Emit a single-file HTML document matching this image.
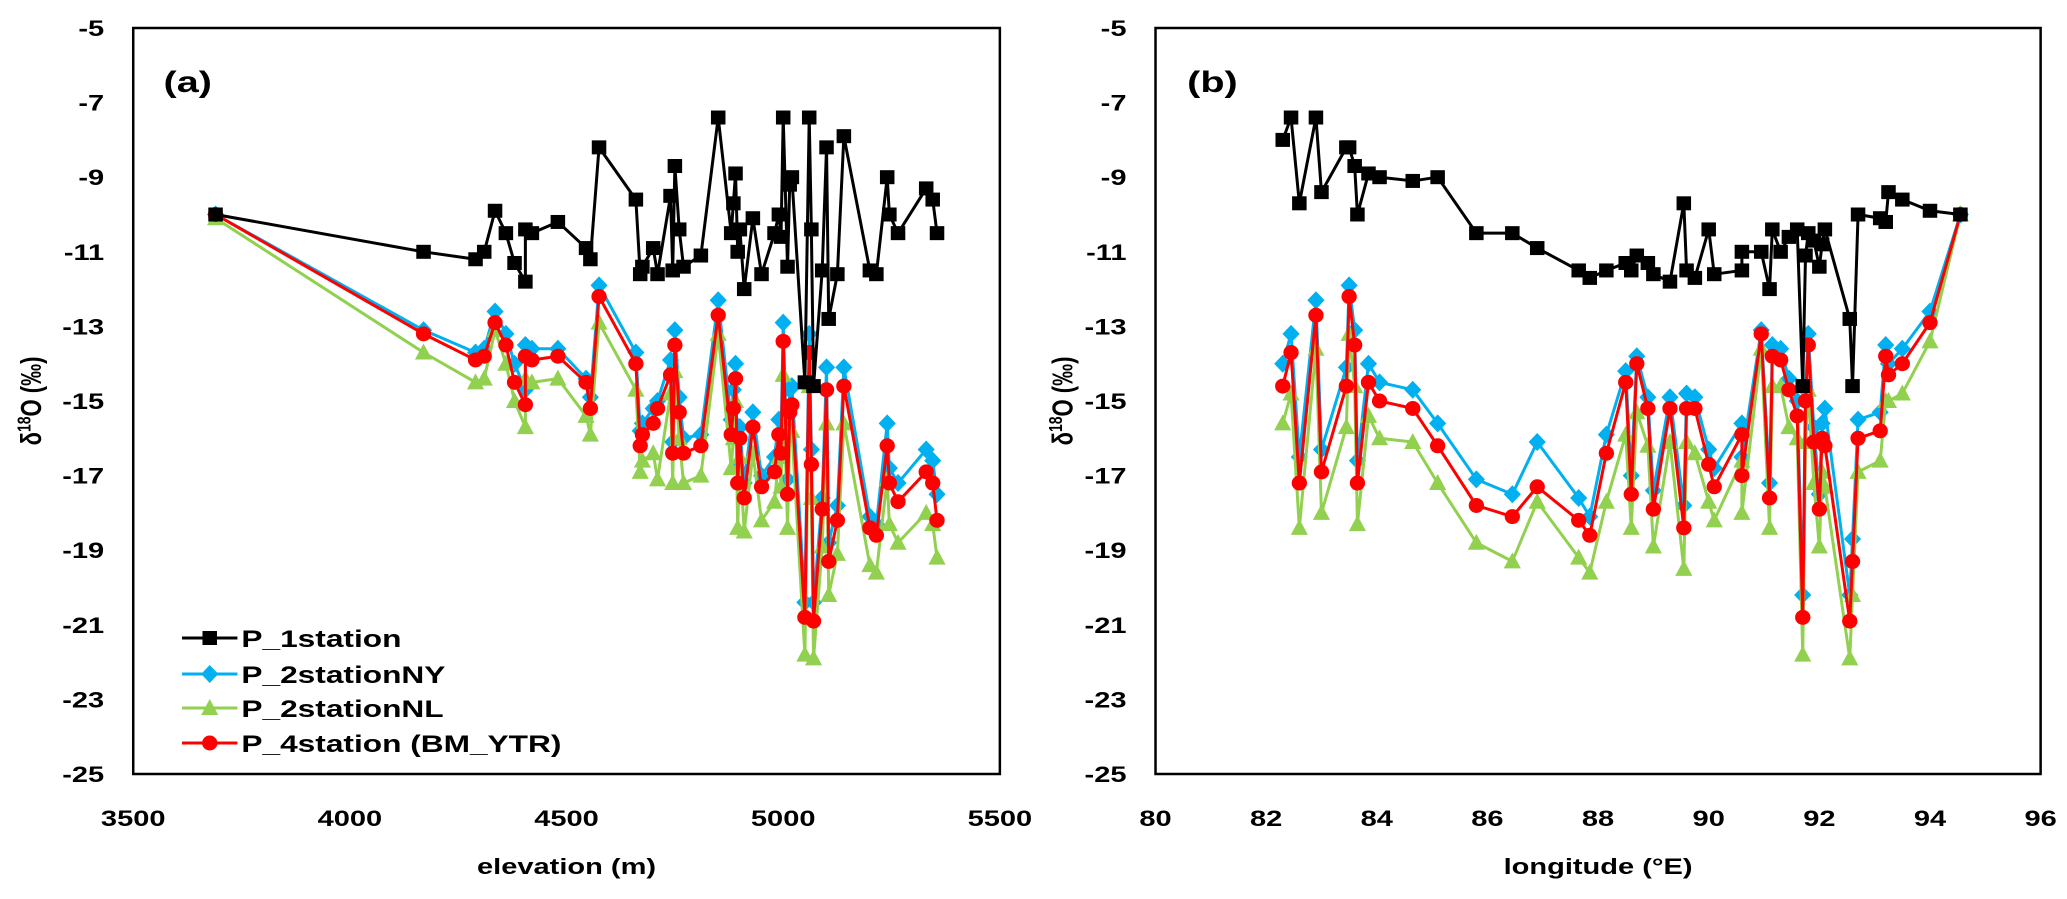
<!DOCTYPE html>
<html><head><meta charset="utf-8"><style>
html,body{margin:0;padding:0;background:#fff;}
svg{display:block;}
text{font-family:"Liberation Sans",sans-serif;font-weight:bold;fill:#000;}
</style></head><body>
<svg id="chart" width="2067" height="899" viewBox="0 0 1567 899" preserveAspectRatio="none" xmlns="http://www.w3.org/2000/svg"></svg>
<script>
const elevation = [3690,4170,4290,4310,4335,4360,4380,4405,4405,4420,4480,4545,4555,4575,4660,4670,4675,4700,4710,4740,4745,4750,4760,4770,4810,4850,4880,4885,4890,4895,4900,4910,4930,4950,4980,4990,4995,5000,5010,5015,5020,5050,5060,5065,5070,5090,5100,5105,5125,5140,5200,5215,5240,5245,5265,5330,5345,5355];
const aP1 = [-10.0,-11.0,-11.2,-11.0,-9.9,-10.5,-11.3,-11.8,-10.4,-10.5,-10.2,-10.9,-11.2,-8.2,-9.6,-11.6,-11.4,-10.9,-11.6,-9.5,-11.5,-8.7,-10.4,-11.4,-11.1,-7.4,-10.5,-9.7,-8.9,-11.0,-10.4,-12.0,-10.1,-11.6,-10.5,-10.0,-10.6,-7.4,-11.4,-9.2,-9.0,-14.5,-7.4,-10.4,-14.6,-11.5,-8.2,-12.8,-11.6,-7.9,-11.5,-11.6,-9.0,-10.0,-10.5,-9.3,-9.6,-10.5];
const aNY = [-10.0,-13.1,-13.7,-13.6,-12.6,-13.2,-14.0,-14.7,-13.5,-13.6,-13.6,-14.4,-14.9,-11.9,-13.7,-15.8,-15.6,-15.2,-15.0,-13.9,-16.1,-13.1,-14.9,-16.0,-15.9,-12.3,-15.5,-14.7,-14.0,-16.8,-15.7,-17.2,-15.3,-17.0,-16.5,-15.5,-16.0,-12.9,-17.1,-14.7,-14.6,-20.4,-13.2,-16.3,-20.4,-17.6,-14.1,-18.8,-17.8,-14.1,-18.1,-18.3,-15.6,-16.8,-17.2,-16.3,-16.6,-17.5];
const aNL = [-10.1,-13.7,-14.5,-14.4,-13.1,-14.0,-15.0,-15.7,-14.4,-14.5,-14.4,-15.4,-15.9,-12.9,-14.7,-16.9,-16.6,-16.4,-17.1,-14.8,-17.2,-14.2,-16.0,-17.2,-17.0,-13.2,-16.8,-16.0,-15.0,-18.4,-16.5,-18.5,-16.4,-18.2,-17.7,-16.5,-17.3,-14.3,-18.4,-15.8,-15.8,-21.8,-14.6,-17.6,-21.9,-18.9,-15.6,-20.2,-19.1,-15.6,-19.4,-19.6,-17.1,-18.3,-18.8,-18.0,-18.3,-19.2];
const aP4 = [-10.0,-13.2,-13.9,-13.8,-12.9,-13.5,-14.5,-15.1,-13.8,-13.9,-13.8,-14.5,-15.2,-12.2,-14.0,-16.2,-15.9,-15.6,-15.2,-14.3,-16.4,-13.5,-15.3,-16.4,-16.2,-12.7,-15.9,-15.2,-14.4,-17.2,-16.0,-17.6,-15.7,-17.3,-16.9,-15.9,-16.4,-13.4,-17.5,-15.3,-15.1,-20.8,-13.7,-16.7,-20.9,-17.9,-14.7,-19.3,-18.2,-14.6,-18.4,-18.6,-16.2,-17.2,-17.7,-16.9,-17.2,-18.2];
const longitude = [82.3,82.45,82.6,82.9,83.0,83.45,83.5,83.6,83.65,83.85,84.05,84.65,85.1,85.8,86.45,86.9,87.65,87.85,88.15,88.5,88.6,88.7,88.9,89.0,89.3,89.55,89.6,89.75,90.0,90.1,90.6,90.6,90.95,91.1,91.15,91.3,91.45,91.6,91.7,91.75,91.8,91.9,92.0,92.05,92.1,92.55,92.6,92.7,93.1,93.2,93.25,93.5,94.0,94.55];
const bP1 = [-8.0,-7.4,-9.7,-7.4,-9.4,-8.2,-8.2,-8.7,-10.0,-8.9,-9.0,-9.1,-9.0,-10.5,-10.5,-10.9,-11.5,-11.7,-11.5,-11.3,-11.5,-11.1,-11.3,-11.6,-11.8,-9.7,-11.5,-11.7,-10.4,-11.6,-11.5,-11.0,-11.0,-12.0,-10.4,-11.0,-10.6,-10.4,-14.6,-11.1,-10.5,-10.7,-11.4,-10.8,-10.4,-12.8,-14.6,-10.0,-10.1,-10.2,-9.4,-9.6,-9.9,-10.0];
const bNY = [-14.0,-13.2,-16.5,-12.3,-16.3,-14.1,-11.9,-13.1,-16.6,-14.0,-14.5,-14.7,-15.6,-17.1,-17.5,-16.1,-17.6,-18.1,-15.9,-14.2,-17.0,-13.8,-14.9,-17.4,-14.9,-17.8,-14.8,-14.9,-16.3,-16.8,-15.6,-16.5,-13.1,-17.2,-13.5,-13.6,-14.4,-15.0,-20.2,-14.7,-13.2,-15.7,-17.5,-15.6,-15.2,-20.2,-18.7,-15.5,-15.3,-13.5,-14.0,-13.6,-12.6,-10.0];
const bNL = [-15.6,-14.8,-18.4,-13.6,-18.0,-15.7,-13.2,-14.6,-18.3,-15.4,-16.0,-16.1,-17.2,-18.8,-19.3,-17.7,-19.2,-19.6,-17.7,-15.9,-18.4,-15.3,-16.2,-18.9,-16.1,-19.5,-16.1,-16.4,-17.7,-18.2,-16.6,-18.0,-13.6,-18.4,-14.6,-14.6,-15.7,-16.0,-21.8,-16.1,-14.7,-17.2,-18.9,-16.9,-17.3,-21.9,-20.2,-16.9,-16.6,-15.0,-15.0,-14.8,-13.4,-10.0];
const bP4 = [-14.6,-13.7,-17.2,-12.7,-16.9,-14.6,-12.2,-13.5,-17.2,-14.5,-15.0,-15.2,-16.2,-17.8,-18.1,-17.3,-18.2,-18.6,-16.4,-14.5,-17.5,-14.0,-15.2,-17.9,-15.2,-18.4,-15.2,-15.2,-16.7,-17.3,-15.9,-17.0,-13.2,-17.6,-13.8,-13.9,-14.7,-15.4,-20.8,-15.0,-13.5,-16.1,-17.9,-16.0,-16.2,-20.9,-19.3,-16.0,-15.8,-13.8,-14.3,-14.0,-12.9,-10.0];
const yTicks = [-5,-7,-9,-11,-13,-15,-17,-19,-21,-23,-25];
const aXTicks = [3500,4000,4500,5000,5500];
const bXTicks = [80,82,84,86,88,90,92,94,96];
const seriesNames = ["P_1station","P_2stationNY","P_2stationNL","P_4station (BM_YTR)"];

const NS = "http://www.w3.org/2000/svg";
const svg = document.getElementById('chart');
function mk(tag, attrs, parent){const e=document.createElementNS(NS,tag);for(const k in attrs)e.setAttribute(k,attrs[k]);(parent||svg).appendChild(e);return e;}
const Y0=28, Y1=774;
function yScale(v){return Y0+(-5-v)/20*(Y1-Y0);}
const panels=[
 {key:'a',x0:101,x1:758,dmin:3500,dmax:5500,xs:elevation,ys:[aP1,aNY,aNL,aP4],ticks:aXTicks,title:'elevation (m)',label:'(a)',yt:23,lblx:124},
 {key:'b',x0:876,x1:1547,dmin:80,dmax:96,xs:longitude,ys:[bP1,bNY,bNL,bP4],ticks:bXTicks,title:'longitude (°E)',label:'(b)',yt:805,lblx:900}
];
const colors=['#000000','#00B0F0','#92D050','#FF0000'];
function marker(g,i,x,y,color){
  let m;
  if(i===0) m=mk('rect',{x:x-5.5,y:y-7,width:11,height:14,fill:color},g);
  else if(i===1) m=mk('polygon',{points:`${x},${y-9} ${x+6.5},${y} ${x},${y+9} ${x-6.5},${y}`,fill:color},g);
  else if(i===2) m=mk('polygon',{points:`${x},${y-9} ${x+6.5},${y+7} ${x-6.5},${y+7}`,fill:color},g);
  else m=mk('ellipse',{cx:x,cy:y,rx:5.8,ry:7.5,fill:color},g);
  return m;
}
panels.forEach(p=>{
  const xS=v=>p.x0+(v-p.dmin)/(p.dmax-p.dmin)*(p.x1-p.x0);
  const frame=mk('rect',{x:p.x0,y:Y0,width:p.x1-p.x0,height:Y1-Y0,fill:'none',stroke:'#000','stroke-width':2.5,'vector-effect':'non-scaling-stroke'});
  
  
  yTicks.forEach(t=>{
    const tx=mk('text',{x:p.x0-22,y:yScale(t)+8,'text-anchor':'end','font-size':22});
    tx.textContent=t;
    
    
  });
  p.ticks.forEach(t=>{
    const tx=mk('text',{x:xS(t),y:826,'text-anchor':'middle','font-size':22});
    tx.textContent=t;
    
    
  });
  const xt=mk('text',{x:(p.x0+p.x1)/2,y:874,'text-anchor':'middle','font-size':22});
  xt.textContent=p.title;
  
  
  const yt=mk('text',{x:0,y:0,'text-anchor':'middle','font-size':22,transform:`translate(${p.yt+8},${(Y0+Y1)/2}) rotate(-90)`});
  yt.innerHTML='δ<tspan dy="-8" font-size="14">18</tspan><tspan dy="8">O (‰)</tspan>';
  
  
  const lb=mk('text',{x:p.lblx,y:92,'font-size':30});
  lb.textContent=p.label;
  
  
  const order=[1,2,3,0];
  order.forEach(i=>{
    const g=mk('g',{});
    
    
    const pts=p.xs.map((x,j)=>xS(x)+','+yScale(p.ys[i][j])).join(' ');
    mk('polyline',{points:pts,fill:'none',stroke:colors[i],'stroke-width':3,'vector-effect':'non-scaling-stroke','stroke-linejoin':'round'},g);
    p.xs.forEach((x,j)=>{
      const m=marker(g,i,xS(x),yScale(p.ys[i][j]),colors[i]);
      
      
    });
  });
});
const lg=mk('g',{});


const legY=[638,674,708,743];
seriesNames.forEach((n,i)=>{
  const e=mk('g',{},lg);
  
  
  mk('line',{x1:138,x2:180,y1:legY[i],y2:legY[i],stroke:colors[i],'stroke-width':3,'vector-effect':'non-scaling-stroke'},e);
  marker(e,i,159,legY[i],colors[i]);
  const t=mk('text',{x:183,y:legY[i]+9,'font-size':24},e);
  t.textContent=n;
});
</script>
</body></html>
